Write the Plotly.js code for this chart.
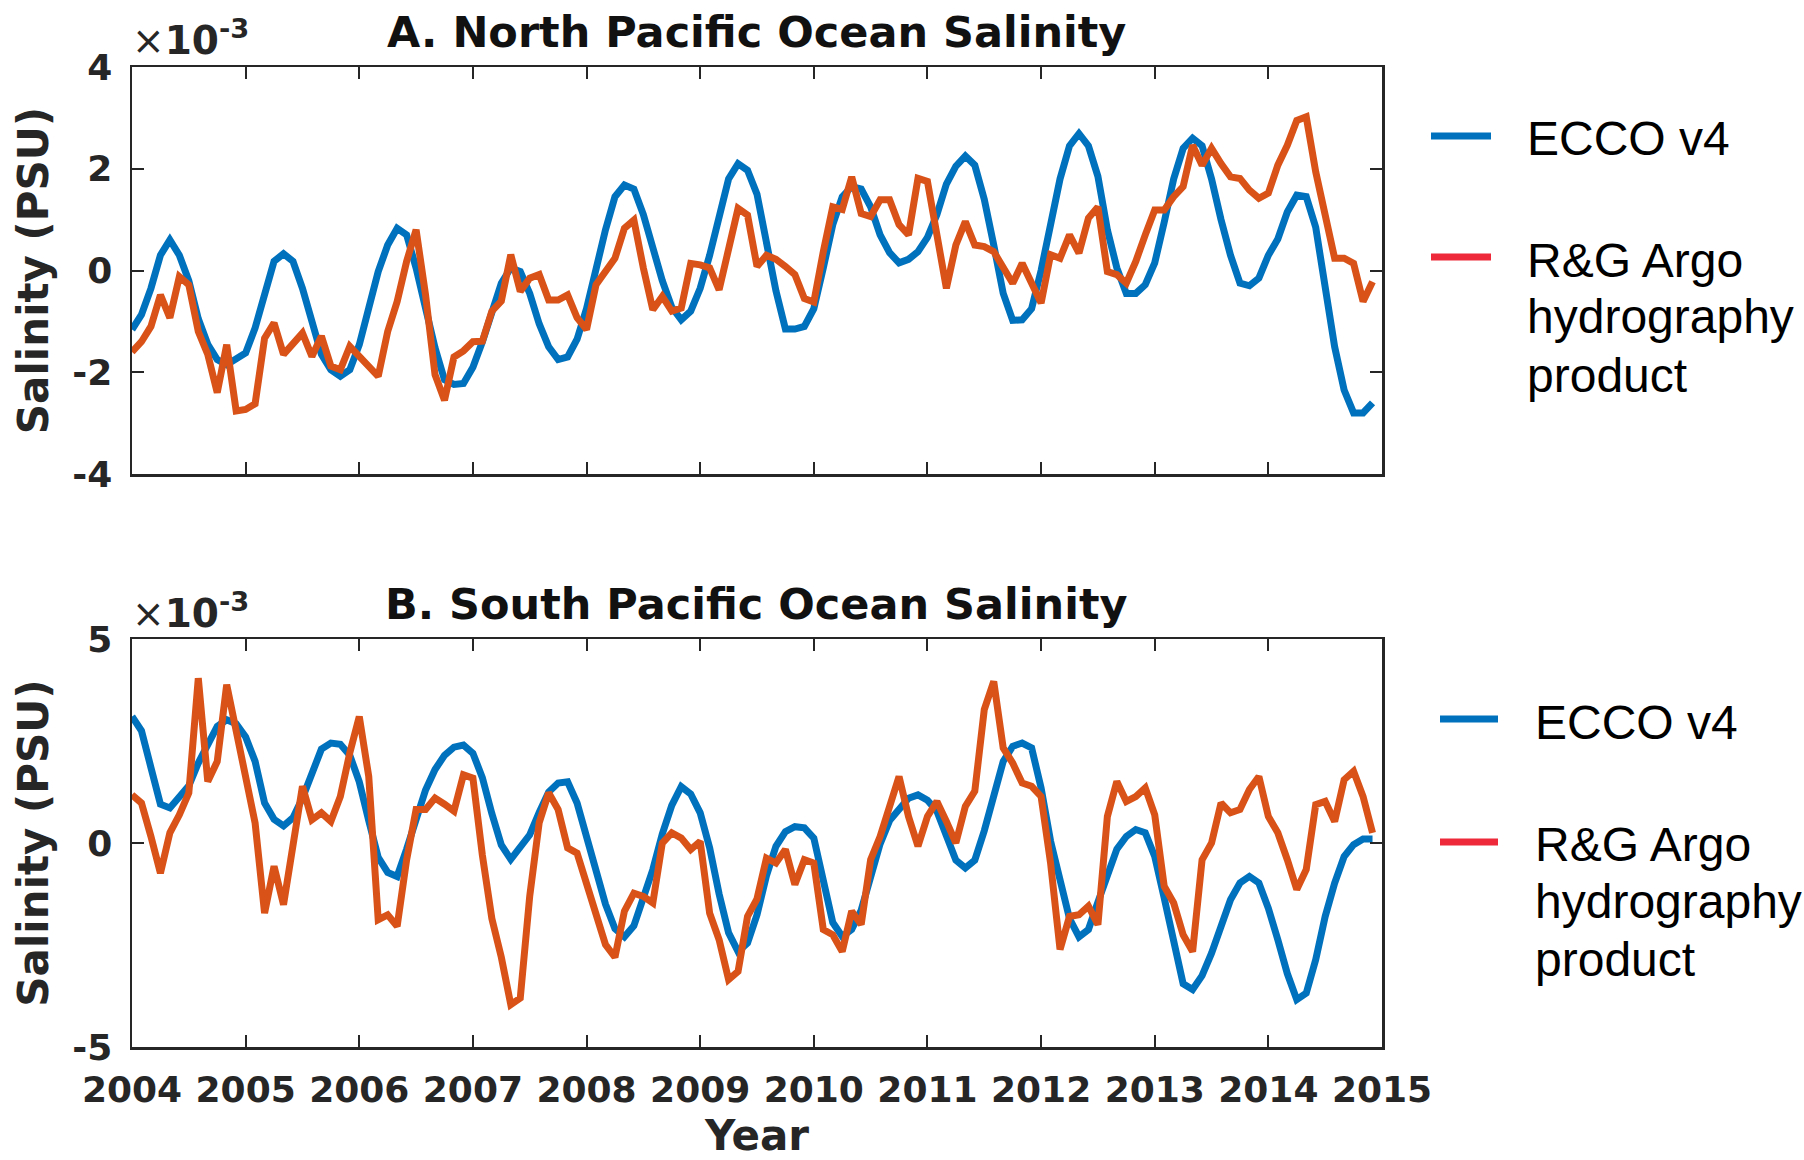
<!DOCTYPE html>
<html><head><meta charset="utf-8">
<script src="https://cdn.plot.ly/plotly-3.0.1.min.js"></script>
<style>html,body{margin:0;padding:0;background:#fff}</style>
</head><body><div id="chart" style="width:1804px;height:1160px"></div>
<script>
// Values are in units of 1e-3 PSU (axis multiplier shown as x10^-3), monthly Jan 2004 - Dec 2014
const years = [2004,2005,2006,2007,2008,2009,2010,2011,2012,2013,2014,2015];
const yearLabels = ['2004','2005','2006','2007','2008','2009','2010','2011','2012','2013','2014','2015'];
const ticksNorth = [-4,-2,0,2,4];
const ticksNorthText = ['-4','-2','0','2','4'];
const ticksSouth = [-5,0,5];
const ticksSouthText = ['-5','0','5'];

const eccoNorth = [-1.16,-0.87,-0.35,0.3,0.6,0.3,-0.2,-0.95,-1.45,-1.75,-1.85,-1.75,
-1.62,-1.13,-0.41,0.18,0.33,0.18,-0.35,-1.0,-1.65,-1.95,-2.08,-1.95,
-1.46,-0.74,-0.02,0.5,0.83,0.7,0.05,-0.74,-1.52,-2.15,-2.24,-2.22,
-1.9,-1.4,-0.8,-0.25,0.05,-0.02,-0.45,-1.05,-1.5,-1.75,-1.7,-1.35,
-0.75,0.05,0.8,1.45,1.68,1.6,1.1,0.45,-0.2,-0.72,-0.97,-0.8,
-0.35,0.3,1.0,1.8,2.1,1.97,1.5,0.55,-0.4,-1.15,-1.15,-1.1,
-0.75,0.05,0.9,1.45,1.65,1.6,1.25,0.7,0.35,0.15,0.22,0.37,
0.65,1.1,1.7,2.05,2.25,2.07,1.4,0.5,-0.45,-0.98,-0.97,-0.75,
0.0,0.9,1.8,2.45,2.69,2.45,1.85,0.8,0.05,-0.45,-0.45,-0.28,
0.15,0.95,1.8,2.4,2.6,2.45,1.8,1.0,0.3,-0.25,-0.3,-0.15,
0.3,0.62,1.15,1.48,1.45,0.85,-0.35,-1.5,-2.35,-2.8,-2.8,-2.6];

const argoNorth = [-1.6,-1.4,-1.1,-0.48,-0.93,-0.12,-0.28,-1.2,-1.65,-2.4,-1.46,-2.76,
-2.73,-2.62,-1.33,-1.03,-1.65,-1.42,-1.23,-1.69,-1.29,-1.88,-1.95,-1.49,
-1.69,-1.92,-2.08,-1.2,-0.61,0.18,0.8,-0.48,-2.05,-2.55,-1.7,-1.58,
-1.4,-1.39,-0.8,-0.6,0.31,-0.41,-0.15,-0.08,-0.58,-0.58,-0.48,-0.93,
-1.16,-0.28,-0.02,0.24,0.83,0.99,0.05,-0.77,-0.51,-0.8,-0.74,0.14,
0.11,0.05,-0.38,0.37,1.22,1.09,0.08,0.3,0.22,0.08,-0.08,-0.55,
-0.62,0.37,1.25,1.2,1.84,1.12,1.06,1.39,1.39,0.9,0.7,1.81,
1.75,0.7,-0.35,0.5,0.96,0.5,0.47,0.37,0.05,-0.25,0.14,-0.28,
-0.64,0.31,0.24,0.7,0.34,1.03,1.25,-0.02,-0.08,-0.25,0.18,0.7,
1.19,1.19,1.45,1.65,2.46,2.07,2.4,2.1,1.84,1.81,1.58,1.42,
1.52,2.07,2.46,2.95,3.02,1.94,1.09,0.24,0.24,0.14,-0.61,-0.22];

const eccoSouth = [3.1,2.75,1.85,0.95,0.86,1.1,1.4,1.96,2.45,2.86,3.02,2.92,
2.6,2.0,0.98,0.58,0.42,0.62,1.1,1.72,2.3,2.45,2.42,2.15,
1.5,0.55,-0.35,-0.72,-0.82,-0.15,0.65,1.3,1.8,2.15,2.35,2.4,
2.2,1.6,0.72,-0.05,-0.4,-0.12,0.2,0.75,1.25,1.47,1.5,0.98,
0.18,-0.7,-1.5,-2.1,-2.3,-2.03,-1.35,-0.65,0.22,0.92,1.38,1.2,
0.74,-0.12,-1.25,-2.2,-2.66,-2.45,-1.76,-0.8,-0.08,0.28,0.4,0.37,
0.12,-0.9,-1.95,-2.29,-2.12,-1.65,-0.85,-0.02,0.55,0.86,1.1,1.18,
1.05,0.78,0.18,-0.42,-0.61,-0.42,0.3,1.14,2.0,2.37,2.45,2.33,
1.35,0.05,-0.98,-1.85,-2.3,-2.12,-1.45,-0.74,-0.15,0.16,0.33,0.25,
-0.33,-1.35,-2.4,-3.45,-3.59,-3.25,-2.7,-2.04,-1.39,-0.98,-0.82,-0.98,
-1.6,-2.37,-3.2,-3.84,-3.68,-2.86,-1.8,-0.98,-0.33,-0.04,0.1,0.1];

const argoSouth = [1.18,0.98,0.16,-0.74,0.25,0.69,1.23,4.04,1.51,2.0,3.88,2.7,
1.63,0.49,-1.72,-0.57,-1.51,0.0,1.39,0.57,0.74,0.53,1.14,2.21,
3.1,1.63,-1.88,-1.76,-2.04,-0.41,0.82,0.82,1.1,0.95,0.78,1.67,
1.59,-0.3,-1.85,-2.8,-3.96,-3.8,-1.3,0.5,1.23,0.82,-0.12,-0.25,
-0.98,-1.72,-2.49,-2.8,-1.67,-1.23,-1.31,-1.47,0.0,0.25,0.12,-0.16,
0.04,-1.72,-2.37,-3.35,-3.15,-1.8,-1.37,-0.37,-0.49,-0.16,-1.02,-0.41,
-0.49,-2.12,-2.25,-2.66,-1.67,-2.0,-0.41,0.16,0.9,1.63,0.65,-0.08,
0.65,1.02,0.53,0.0,0.9,1.27,3.27,3.96,2.33,1.96,1.47,1.39,
1.14,-0.49,-2.61,-1.8,-1.76,-1.55,-2.0,0.65,1.51,1.02,1.14,1.35,
0.69,-1.06,-1.47,-2.25,-2.66,-0.41,0.0,0.98,0.74,0.82,1.31,1.63,
0.65,0.25,-0.41,-1.14,-0.65,0.94,1.02,0.53,1.55,1.76,1.14,0.25];

const months = eccoNorth.map((_, i) => years[0] + i / 12);

const BLUE = '#0072BD', ORANGE = '#D95319', LEG_RED = '#EE2A3A', AX = '#262626';
const LW = 7;

// pixel helpers for the margin area (plot spans x 132..1382, y 67..1047)
const L = 132, R = 1382, T = 67, B = 1047;
const px = v => (v - L) / (R - L);
const py = v => (B - v) / (B - T);

const traces = [
  {x: months, y: eccoNorth, xaxis: 'x', yaxis: 'y', mode: 'lines', name: 'ECCO v4', line: {color: BLUE, width: LW}},
  {x: months, y: argoNorth, xaxis: 'x', yaxis: 'y', mode: 'lines', name: 'R&G Argo hydrography product', line: {color: ORANGE, width: LW}},
  {x: months, y: eccoSouth, xaxis: 'x2', yaxis: 'y2', mode: 'lines', name: 'ECCO v4', line: {color: BLUE, width: LW}},
  {x: months, y: argoSouth, xaxis: 'x2', yaxis: 'y2', mode: 'lines', name: 'R&G Argo hydrography product', line: {color: ORANGE, width: LW}}
];

const tickFont = {family: 'DejaVu Sans', size: 36, color: AX, weight: 'bold'};
const titleFont = {family: 'DejaVu Sans', size: 42, color: AX, weight: 'bold'};
const axBase = {
  showgrid: false, zeroline: false, showline: true, linecolor: AX, linewidth: 2.5,
  mirror: 'ticks', ticks: 'inside', ticklen: 12, tickwidth: 2, tickcolor: AX,
  tickfont: tickFont, fixedrange: true
};

const layout = {
  width: 1804, height: 1160,
  margin: {l: L, r: 1804 - R, t: T, b: 1160 - B, pad: 0},
  paper_bgcolor: '#fff', plot_bgcolor: '#fff',
  showlegend: false,
  xaxis: Object.assign({}, axBase, {anchor: 'y', range: [years[0], years[years.length-1]], tickvals: years, showticklabels: false}),
  yaxis: Object.assign({}, axBase, {domain: [py(474), 1], anchor: 'x', range: [-4, 4], tickvals: ticksNorth, ticktext: ticksNorthText,
    ticklabelstandoff: 10, title: {text: 'Salinity (PSU)', font: titleFont, standoff: 11}}),
  xaxis2: Object.assign({}, axBase, {anchor: 'y2', range: [years[0], years[years.length-1]], tickvals: years, ticktext: yearLabels,
    ticklabelstandoff: 9, title: {text: 'Year', font: titleFont, standoff: 22}}),
  yaxis2: Object.assign({}, axBase, {domain: [0, py(639)], anchor: 'x2', range: [-5, 5], tickvals: ticksSouth, ticktext: ticksSouthText,
    ticklabelstandoff: 10, title: {text: 'Salinity (PSU)', font: titleFont, standoff: 11}}),
  shapes: [
    {type: 'line', xref: 'paper', yref: 'paper', x0: px(1431), x1: px(1491), y0: py(136), y1: py(136), line: {color: BLUE, width: 7}},
    {type: 'line', xref: 'paper', yref: 'paper', x0: px(1431), x1: px(1491), y0: py(257), y1: py(257), line: {color: LEG_RED, width: 7}},
    {type: 'line', xref: 'paper', yref: 'paper', x0: px(1440), x1: px(1498), y0: py(719), y1: py(719), line: {color: BLUE, width: 7}},
    {type: 'line', xref: 'paper', yref: 'paper', x0: px(1440), x1: px(1498), y0: py(842), y1: py(842), line: {color: LEG_RED, width: 7}}
  ],
  annotations: []
};

const legFont = {family: 'Liberation Sans, Arial, sans-serif', size: 48, color: '#000'};
function legText(t, x, y) {
  layout.annotations.push({text: t, xref: 'paper', yref: 'paper', x: px(x), y: py(y), xanchor: 'left', yanchor: 'middle', showarrow: false, font: legFont});
}
legText('ECCO v4', 1525, 138); legText('R&G Argo', 1525, 260); legText('hydrography', 1525, 317); legText('product', 1525, 375);
legText('ECCO v4', 1533, 722); legText('R&G Argo', 1533, 844); legText('hydrography', 1533, 901); legText('product', 1533, 959);

const panelTitleFont = {family: 'DejaVu Sans', size: 43, color: '#111', weight: 'bold'};
layout.annotations.push({text: 'A. North Pacific Ocean Salinity', xref: 'paper', yref: 'paper', x: px(756), y: py(32), xanchor: 'center', yanchor: 'middle', showarrow: false, font: panelTitleFont});
layout.annotations.push({text: 'B. South Pacific Ocean Salinity', xref: 'paper', yref: 'paper', x: px(756), y: py(604), xanchor: 'center', yanchor: 'middle', showarrow: false, font: panelTitleFont});

const multFont = {family: 'DejaVu Sans', size: 39, color: AX};
layout.annotations.push({text: '×<b>10<sup>-3</sup></b>', xref: 'paper', yref: 'paper', x: px(130), y: py(65), xanchor: 'left', yanchor: 'bottom', showarrow: false, font: multFont});
layout.annotations.push({text: '×<b>10<sup>-3</sup></b>', xref: 'paper', yref: 'paper', x: px(130), y: py(638), xanchor: 'left', yanchor: 'bottom', showarrow: false, font: multFont});

Plotly.newPlot('chart', traces, layout, {displayModeBar: false, staticPlot: true});
</script>
</body></html>
